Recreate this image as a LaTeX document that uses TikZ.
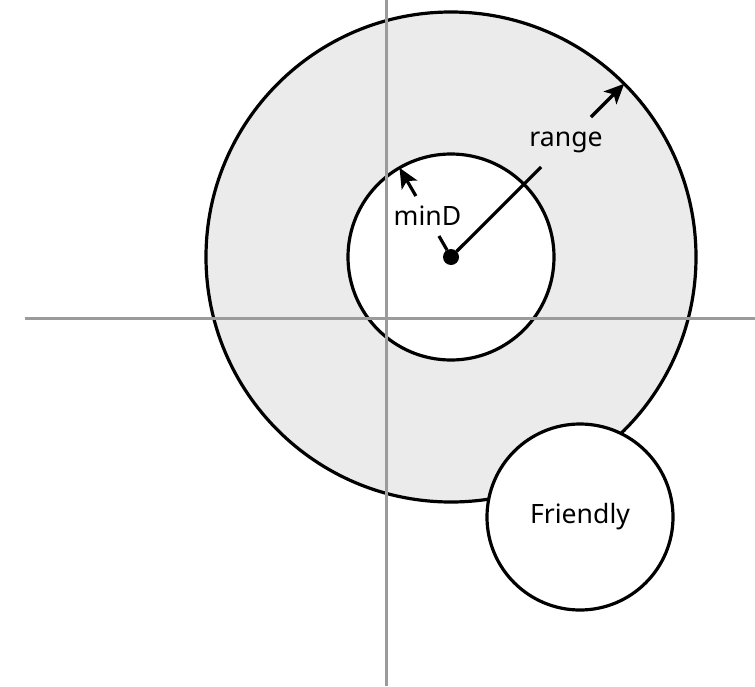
\documentclass[tikz,border=0pt]{standalone}
\usepackage{fontspec}
\setmainfont{Noto Sans}
\usetikzlibrary{arrows.meta,positioning}

\definecolor{ringgray}{HTML}{EBEBEB}
\definecolor{axisgray}{HTML}{9B9B9B}

\begin{document}
\begin{tikzpicture}[x=0.5pt, y=-0.5pt,
    ring/.style={draw, circle, line width=1.6pt, inner sep=0pt, outer sep=0pt},
    lbl/.style={inner sep=0pt, outer sep=0pt, font=\fontsize{13.3}{15}\selectfont},
    meas/.style={line width=1.6pt},
    axisline/.style={draw=axisgray, line width=1.5pt},
]
\useasboundingbox (0,0) rectangle (755,686);

\node[ring, fill=ringgray, minimum size=245pt] (outer) at (451,257) {};
\node[ring, fill=white, minimum size=103pt] (inner) at (451,257) {};
\node[ring, fill=white, minimum size=93pt, font=\fontsize{13.3}{15}\selectfont] (friend) at (580,517) {Friendly};
\node[circle, fill=black, minimum size=8pt, inner sep=0pt, outer sep=0pt] (c) at (451,257) {};

\node[lbl, minimum height=25pt] (rlbl) at (566,142) {range};
\node[lbl, minimum height=20pt] (mlbl) at (427.5,216) {minD};

\draw[meas] (c) -- (rlbl);
\draw[meas, -{Stealth[length=10pt, width=9pt, inset=2.5pt]}] (rlbl) -- (outer.45);
\draw[meas] (c) -- (mlbl);
\draw[meas, -{Stealth[length=10pt, width=9pt, inset=2.5pt]}] (mlbl) -- (inner.120);

% axes
\coordinate (vtop) at (386,0);
\coordinate (vbot) at (386,686);
\coordinate (hleft) at (25,318);
\coordinate (hright) at (755,318);
\draw[axisline] (vtop) -- (vbot);
\draw[axisline] (hleft) -- (hright);
\end{tikzpicture}
\end{document}
